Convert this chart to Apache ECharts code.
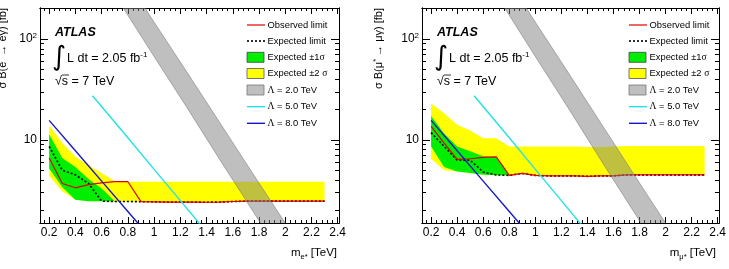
<!DOCTYPE html>
<html>
<head>
<meta charset="UTF-8">
<script src="https://cdn.jsdelivr.net/npm/echarts@6/dist/echarts.min.js"></script>
<style>
html, body { margin: 0; padding: 0; background: #fff; }
#main { width: 729px; height: 269px; }
</style>
</head>
<body>
<div id="main"></div>
<script>
// mass points of the limit curves (TeV)
var mass = [0.2, 0.3, 0.4, 0.5, 0.6, 0.7, 0.8, 0.9, 1.0, 1.1, 1.2, 1.3, 1.4, 1.5, 1.6, 1.7, 1.8, 1.9, 2.0, 2.1, 2.2, 2.3];

// e* -> e gamma (left)
var obsE   = [6.6, 3.7, 3.35, 3.6, 3.75, 3.85, 3.85, 2.44, 2.43, 2.42, 2.42, 2.42, 2.41, 2.42, 2.45, 2.47, 2.47, 2.47, 2.47, 2.47, 2.47, 2.47];
var expE   = [8.6, 5.0, 4.5, 3.7, 2.47, 2.45, 2.45, 2.44, 2.43, 2.42, 2.42, 2.42, 2.41, 2.42, 2.45, 2.47, 2.47, 2.47, 2.47, 2.47, 2.47, 2.47];
var grnUpE = [11.4, 6.6, 5.4, 4.1, 3.3, 2.47, 2.45, 2.44, 2.43, 2.42, 2.42, 2.42, 2.41, 2.42, 2.45, 2.47, 2.47, 2.47, 2.47, 2.47, 2.47, 2.47];
var grnLoE = [5.2, 3.4, 2.55, 2.47, 2.46, 2.45, 2.45, 2.44, 2.43, 2.42, 2.42, 2.42, 2.41, 2.42, 2.45, 2.47, 2.47, 2.47, 2.47, 2.47, 2.47, 2.47];
var yelUpE = [14.0, 9.3, 6.8, 5.6, 4.7, 3.9, 3.85, 3.85, 3.85, 3.85, 3.85, 3.85, 3.85, 3.85, 3.85, 3.85, 3.85, 3.85, 3.85, 3.85, 3.85, 3.85];
var yelLoE = [4.4, 3.1, 2.55, 2.47, 2.46, 2.45, 2.45, 2.44, 2.43, 2.42, 2.42, 2.42, 2.41, 2.42, 2.45, 2.47, 2.47, 2.47, 2.47, 2.47, 2.47, 2.47];

// mu* -> mu gamma (right)
var obsM   = [13.6, 9.3, 6.4, 6.5, 6.7, 6.8, 4.45, 4.65, 4.45, 4.4, 4.4, 4.4, 4.35, 4.4, 4.4, 4.5, 4.5, 4.5, 4.5, 4.5, 4.5, 4.5];
var expM   = [11.8, 8.6, 6.3, 6.3, 4.8, 4.5, 4.45, 4.65, 4.45, 4.4, 4.4, 4.4, 4.35, 4.4, 4.4, 4.5, 4.5, 4.5, 4.5, 4.5, 4.5, 4.5];
var grnUpM = [17.3, 11.6, 8.6, 7.7, 6.9, 6.8, 4.45, 4.65, 4.45, 4.4, 4.4, 4.4, 4.35, 4.4, 4.4, 4.5, 4.5, 4.5, 4.5, 4.5, 4.5, 4.5];
var grnLoM = [8.6, 5.4, 4.85, 4.7, 4.5, 4.45, 4.45, 4.65, 4.45, 4.4, 4.4, 4.4, 4.35, 4.4, 4.4, 4.5, 4.5, 4.5, 4.5, 4.5, 4.5, 4.5];
var yelUpM = [23, 18.4, 14.1, 12.4, 10.4, 10.4, 8.6, 8.6, 8.6, 8.6, 8.6, 8.6, 8.5, 8.5, 8.6, 8.7, 8.7, 8.7, 8.7, 8.7, 8.7, 8.7];
var yelLoM = [6.5, 5.0, 4.85, 4.7, 4.5, 4.45, 4.45, 4.65, 4.45, 4.4, 4.4, 4.4, 4.35, 4.4, 4.4, 4.5, 4.5, 4.5, 4.5, 4.5, 4.5, 4.5];

// signal predictions (same in both panels)
var lam2Mass = [0.75, 1.0, 1.25, 1.5, 1.75, 2.0];
var lam2Lo   = [218, 67, 21, 6.4, 2.0, 0.62];
var lam2Hi   = [465, 147, 47, 14.9, 4.7, 1.5];
var lam5Mass = [0.53, 0.8, 1.0, 1.2, 1.4];
var lam5Xs   = [27.4, 10.5, 5.1, 2.5, 1.22];
var lam8Mass = [0.2, 0.4, 0.6, 0.8, 0.9];
var lam8Xs   = [15.6, 7.8, 3.9, 1.95, 1.38];

// axis ticks
var xMajor = [0.2, 0.4, 0.6, 0.8, 1.0, 1.2, 1.4, 1.6, 1.8, 2.0, 2.2, 2.4];
var xMinor = [0.16, 0.24, 0.28, 0.32, 0.36, 0.44, 0.48, 0.52, 0.56, 0.64, 0.68, 0.72, 0.76, 0.84, 0.88, 0.92, 0.96,
              1.04, 1.08, 1.12, 1.16, 1.24, 1.28, 1.32, 1.36, 1.44, 1.48, 1.52, 1.56, 1.64, 1.68, 1.72, 1.76,
              1.84, 1.88, 1.92, 1.96, 2.04, 2.08, 2.12, 2.16, 2.24, 2.28, 2.32, 2.36, 2.4];
var yMajor = [10, 100];
var yMinor = [2, 3, 4, 5, 6, 7, 8, 9, 20, 30, 40, 50, 60, 70, 80, 90, 200];

var FONT = '"Liberation Sans", Arial, Helvetica, sans-serif';
var X_MIN = 0.13, X_MAX = 2.41, Y_MIN = 1.5, Y_MAX = 203;
var GREY = 'rgba(128,128,128,0.5)';

var chart = echarts.init(document.getElementById('main'), null, {renderer: 'canvas'});

function xAx(gi, pos, ticks, len, labels) {
  return {
    gridIndex: gi, type: 'value', position: pos, min: X_MIN, max: X_MAX,
    splitLine: {show: false},
    axisLine: {show: true, onZero: false, lineStyle: {color: '#000', width: 1}},
    axisTick: {show: true, inside: true, length: len, customValues: ticks, lineStyle: {color: '#000', width: 1}},
    axisLabel: labels ? {
      show: true, customValues: xMajor, margin: 4, color: '#000', fontSize: 12, fontFamily: FONT,
      formatter: function (v) { return String(+(+v).toFixed(1)); }
    } : {show: false}
  };
}
function yAx(gi, pos, ticks, len, labels) {
  return {
    gridIndex: gi, type: 'log', logBase: 10, position: pos, min: Y_MIN, max: Y_MAX,
    splitLine: {show: false},
    axisLine: {show: true, onZero: false, lineStyle: {color: '#000', width: 1}},
    axisTick: {show: true, inside: true, length: len, customValues: ticks, lineStyle: {color: '#000', width: 1}},
    axisLabel: labels ? {
      show: true, customValues: yMajor, margin: 3, color: '#000', fontSize: 12, fontFamily: FONT,
      formatter: function (v) { return Math.round(v) === 100 ? '10{sup|2}' : String(Math.round(v)); },
      rich: {sup: {fontSize: 8, fontFamily: FONT, color: '#000', verticalAlign: 'top', padding: [0, 0, 7, 0]}}
    } : {show: false}
  };
}

function band(gi, xs, lo, hi, fill, stroke, z) {
  return {
    type: 'custom', xAxisIndex: gi * 4, yAxisIndex: gi * 4, clip: true, z: z, silent: true,
    data: xs.map(function (x, i) { return [x, lo[i], hi[i]]; }),
    renderItem: function (params, api) {
      if (params.dataIndex !== 0) return;
      var pts = [];
      for (var i = 0; i < xs.length; i++) pts.push(api.coord([xs[i], hi[i]]));
      for (var j = xs.length - 1; j >= 0; j--) pts.push(api.coord([xs[j], lo[j]]));
      return {type: 'polygon', shape: {points: pts},
              style: {fill: fill, stroke: stroke || null, lineWidth: stroke ? 0.8 : 0}};
    }
  };
}
function line(gi, xs, ys, color, width, type, z) {
  return {
    type: 'line', xAxisIndex: gi * 4, yAxisIndex: gi * 4, z: z, silent: true,
    data: xs.map(function (x, i) { return [x, ys[i]]; }),
    symbol: 'none', clip: true,
    lineStyle: {color: color, width: width, type: type || 'solid'}
  };
}

var xAxes = [], yAxes = [], series = [];
[0, 1].forEach(function (gi) {
  xAxes.push(xAx(gi, 'bottom', xMajor, 6, true), xAx(gi, 'bottom', xMinor, 3, false),
             xAx(gi, 'top', xMajor, 6, false), xAx(gi, 'top', xMinor, 3, false));
  yAxes.push(yAx(gi, 'left', yMajor, 8, true), yAx(gi, 'left', yMinor, 4, false),
             yAx(gi, 'right', yMajor, 8, false), yAx(gi, 'right', yMinor, 4, false));
});

var panels = [
  {obs: obsE, exp: expE, gu: grnUpE, gl: grnLoE, yu: yelUpE, yl: yelLoE},
  {obs: obsM, exp: expM, gu: grnUpM, gl: grnLoM, yu: yelUpM, yl: yelLoM}
];
panels.forEach(function (p, gi) {
  series.push(
    band(gi, mass, p.yl, p.yu, '#ffff00', null, 1),
    band(gi, mass, p.gl, p.gu, '#00ee00', null, 2),
    line(gi, mass, p.exp, '#000', 1.6, [2, 2], 3),
    line(gi, mass, p.obs, '#e00000', 1.2, 'solid', 4),
    band(gi, lam2Mass, lam2Lo, lam2Hi, GREY, 'rgba(120,120,120,0.7)', 5),
    line(gi, lam5Mass, lam5Xs, '#22e2e8', 1.4, 'solid', 6),
    line(gi, lam8Mass, lam8Xs, '#1818c8', 1.4, 'solid', 7)
  );
});

// text and legend
var graphics = [];
var titles = [
  {ox: 0, ytitle: 'σ B(e{s|*} → eγ) [fb]', ytx: 3, xsub: 'e*', xr: 337},
  {ox: 382, ytitle: 'σ B(μ{s|*} → μγ) [fb]', ytx: 379, xsub: 'μ*', xr: 716}
];
titles.forEach(function (t) {
  var ox = t.ox;
  graphics.push(
    {type: 'text', x: t.ytx, y: 8, rotation: Math.PI / 2,
     style: {text: t.ytitle, align: 'right', verticalAlign: 'middle', fill: '#000', font: '11px ' + FONT,
             rich: {s: {fontSize: 7.5, fontFamily: FONT, verticalAlign: 'top', padding: [0, 0, 6, 0]}}}},
    {type: 'text', x: t.xr, y: 253,
     style: {text: 'm{sub|' + t.xsub + '} [TeV]', align: 'right', verticalAlign: 'middle', fill: '#000', font: '11.5px ' + FONT,
             rich: {sub: {fontSize: 7.5, fontFamily: FONT, padding: [7, 0, 0, 0]}}}},
    {type: 'text', x: 55 + ox, y: 33,
     style: {text: 'ATLAS', fill: '#000', font: 'italic bold 12.5px ' + FONT, verticalAlign: 'middle'}},
    {type: 'text', x: 52 + ox, y: 58,
     style: {text: '∫', fill: '#000', font: '27px "DejaVu Sans"', verticalAlign: 'middle'}},
    {type: 'text', x: 67 + ox, y: 59,
     style: {text: 'L dt = 2.05 fb{sup|-1}', fill: '#000', font: '12.5px ' + FONT, verticalAlign: 'middle',
             rich: {sup: {fontSize: 8, fontFamily: FONT, verticalAlign: 'top', padding: [0, 0, 8, 0]}}}},
    {type: 'text', x: 55 + ox, y: 82,
     style: {text: '√s = 7 TeV', fill: '#000', font: '12.5px ' + FONT, verticalAlign: 'middle'}},
    {type: 'line', shape: {x1: 62 + ox, y1: 75, x2: 69 + ox, y2: 75}, style: {stroke: '#000', lineWidth: 0.8}}
  );

  var lx = 247 + ox, tx = 267.5 + ox;
  var rows = [25, 41, 57.3, 73.5, 90, 106.7, 123.3];
  var labels = ['Observed limit', 'Expected limit', 'Expected ±1{g|σ}', 'Expected ±2 {g|σ}',
                '{g|Λ} = 2.0 TeV', '{g|Λ} = 5.0 TeV', '{g|Λ} = 8.0 TeV'];
  labels.forEach(function (s, i) {
    graphics.push({type: 'text', x: tx, y: rows[i],
      style: {text: s, fill: '#000', font: '9.4px ' + FONT, verticalAlign: 'middle',
              rich: {g: {fontSize: 9.6, fontFamily: '"Liberation Serif", serif'}}}});
  });
  graphics.push(
    {type: 'line', shape: {x1: lx, y1: rows[0], x2: lx + 18, y2: rows[0]}, style: {stroke: '#e00000', lineWidth: 1.2}},
    {type: 'line', shape: {x1: lx, y1: rows[1], x2: lx + 18, y2: rows[1]}, style: {stroke: '#000', lineWidth: 1.6, lineDash: [2, 2]}},
    {type: 'rect', shape: {x: lx, y: rows[2] - 5, width: 17, height: 10}, style: {fill: '#00ee00', stroke: '#444', lineWidth: 0.8}},
    {type: 'rect', shape: {x: lx, y: rows[3] - 5, width: 17, height: 10}, style: {fill: '#ffff00', stroke: '#555', lineWidth: 0.8}},
    {type: 'rect', shape: {x: lx, y: rows[4] - 5, width: 17, height: 10}, style: {fill: GREY, stroke: '#777', lineWidth: 0.8}},
    {type: 'line', shape: {x1: lx, y1: rows[5], x2: lx + 18, y2: rows[5]}, style: {stroke: '#22e2e8', lineWidth: 1.4}},
    {type: 'line', shape: {x1: lx, y1: rows[6], x2: lx + 18, y2: rows[6]}, style: {stroke: '#1818c8', lineWidth: 1.4}}
  );
});

chart.setOption({
  animation: false,
  backgroundColor: '#fff',
  textStyle: {fontFamily: FONT},
  grid: [
    {left: 40, top: 8, width: 299, height: 215, containLabel: false},
    {left: 422, top: 8, width: 299, height: 215, containLabel: false}
  ],
  xAxis: xAxes,
  yAxis: yAxes,
  series: series,
  graphic: {elements: graphics}
});
</script>
</body>
</html>
